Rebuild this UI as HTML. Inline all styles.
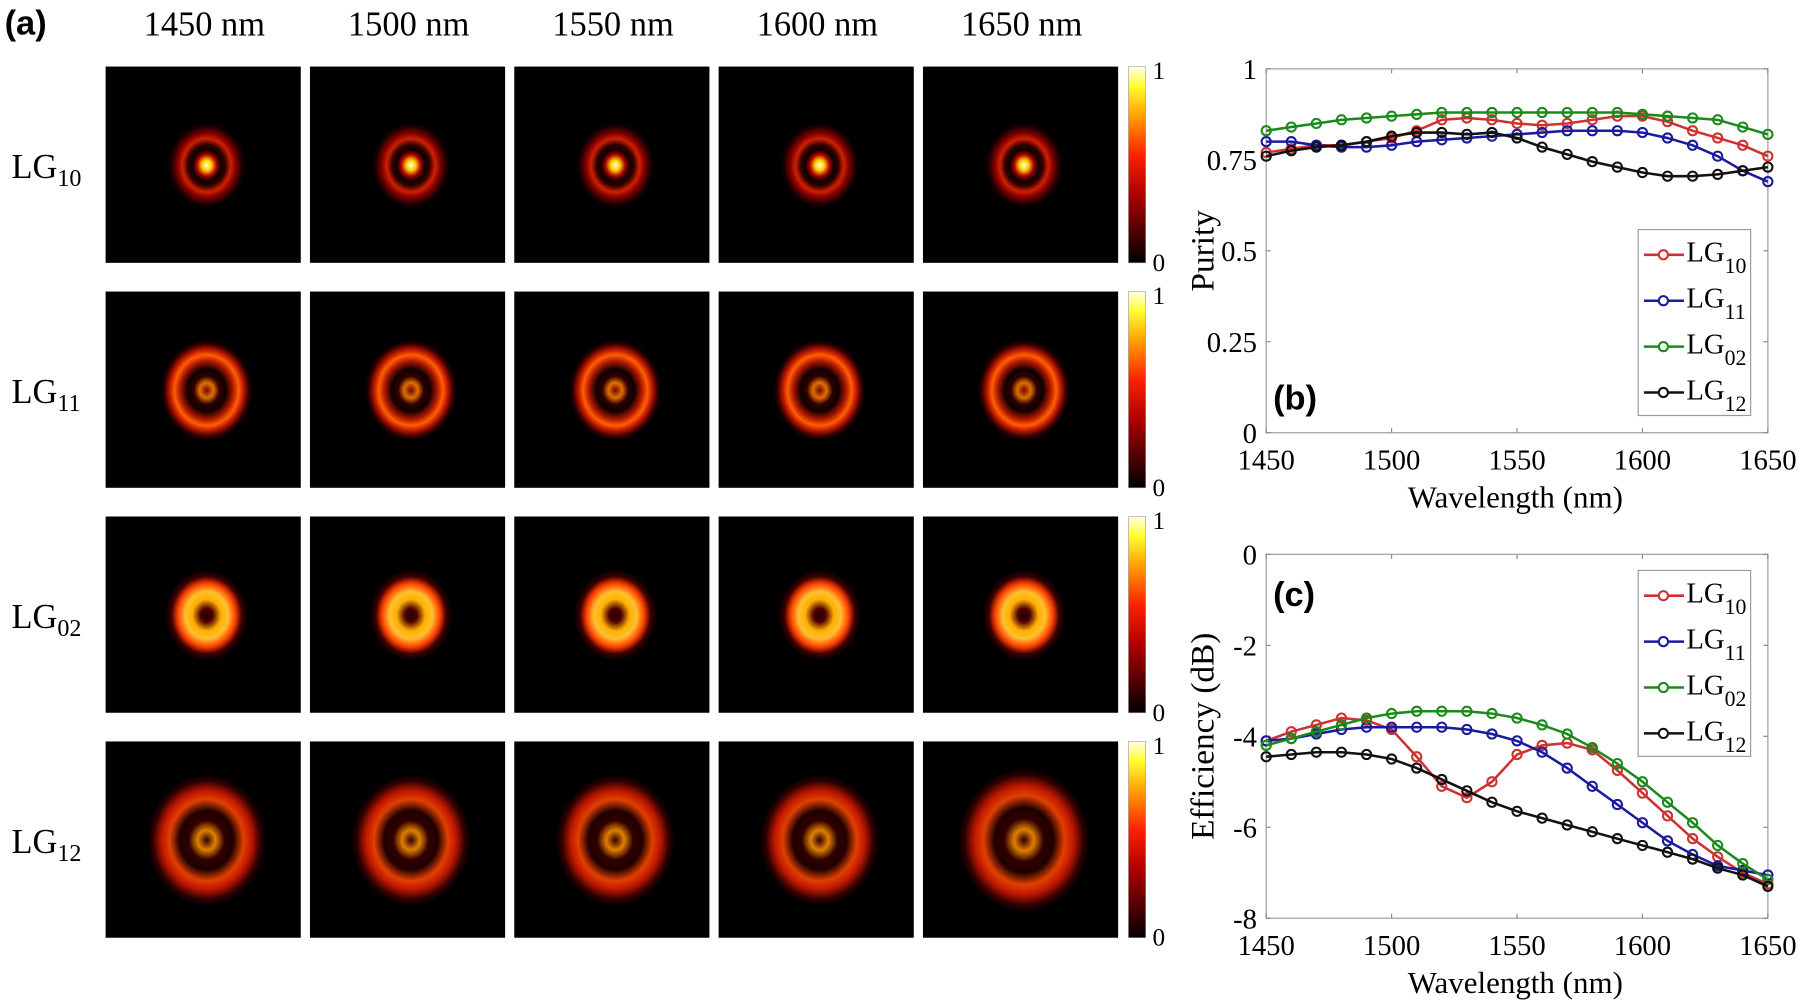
<!DOCTYPE html>
<html><head><meta charset="utf-8"><style>
html,body{margin:0;padding:0;background:#fff;}
svg{display:block;}
</style></head><body>
<svg id="s" width="1800" height="1002" viewBox="0 0 1568 873" preserveAspectRatio="none" xmlns="http://www.w3.org/2000/svg">
<defs>
<linearGradient id="cb" x1="0" y1="1" x2="0" y2="0">
<stop offset="0" stop-color="#000"/><stop offset="0.35" stop-color="#b00000"/><stop offset="0.55" stop-color="#ff2000"/><stop offset="0.75" stop-color="#ffa000"/><stop offset="0.9" stop-color="#ffff30"/><stop offset="1" stop-color="#ffffe8"/>
</linearGradient>
<radialGradient id="g0"><stop offset="0" stop-color="#fffde0"/><stop offset="0.12" stop-color="#ffd000"/><stop offset="0.25" stop-color="#b00000"/><stop offset="0.36" stop-color="#100000"/><stop offset="0.48" stop-color="#300000"/><stop offset="0.62" stop-color="#d02000"/><stop offset="0.75" stop-color="#800000"/><stop offset="0.9" stop-color="#200000"/><stop offset="1" stop-color="#000"/></radialGradient>
<radialGradient id="g1"><stop offset="0" stop-color="#700800"/><stop offset="0.15" stop-color="#e07000"/><stop offset="0.28" stop-color="#300000"/><stop offset="0.42" stop-color="#100000"/><stop offset="0.58" stop-color="#b01800"/><stop offset="0.7" stop-color="#ff6000"/><stop offset="0.8" stop-color="#c01800"/><stop offset="0.92" stop-color="#300000"/><stop offset="1" stop-color="#000"/></radialGradient>
<radialGradient id="g2"><stop offset="0" stop-color="#200000"/><stop offset="0.15" stop-color="#500000"/><stop offset="0.35" stop-color="#ffb000"/><stop offset="0.52" stop-color="#ffc030"/><stop offset="0.7" stop-color="#ff4000"/><stop offset="0.85" stop-color="#400000"/><stop offset="1" stop-color="#000"/></radialGradient>
<radialGradient id="g3"><stop offset="0" stop-color="#300000"/><stop offset="0.15" stop-color="#e08000"/><stop offset="0.3" stop-color="#300000"/><stop offset="0.45" stop-color="#200000"/><stop offset="0.62" stop-color="#e04000"/><stop offset="0.75" stop-color="#c01800"/><stop offset="0.9" stop-color="#300000"/><stop offset="1" stop-color="#000"/></radialGradient>
</defs>
</svg>
<script>
var s=document.getElementById('s'),h='';
var SER='font-family="Liberation Serif, serif"';
function T(x,y,t,sz,a){h+='<text '+SER+' x="'+x+'" y="'+y+'" font-size="'+sz+'" text-anchor="'+(a||'start')+'">'+t+'</text>';}
h+='<text x="4" y="30" font-size="30" font-weight="bold" font-family="Liberation Sans, sans-serif">(a)</text>';
var cx=[92,270,448,626,804],ry=[58,254,450,646],wl=['1450','1500','1550','1600','1650'];
for(var i=0;i<5;i++)T(cx[i]+86,31,wl[i]+' nm',30,'middle');
var lbl=['10','11','02','12'],rr=[34,40,36,52];
for(var r=0;r<4;r++){
 h+='<text '+SER+' x="10" y="'+(ry[r]+97)+'" font-size="30">LG<tspan font-size="21" dy="7">'+lbl[r]+'</tspan></text>';
 for(var c=0;c<5;c++){
  var x=cx[c],y=ry[r];
  h+='<rect x="'+x+'" y="'+y+'" width="170" height="171" fill="#000"/>';
  var R=rr[r]*(r==3&&c==4?1.1:1);
  h+='<ellipse cx="'+(x+88)+'" cy="'+(y+86)+'" rx="'+R+'" ry="'+(R*1.1)+'" fill="url(#g'+r+')"/>';
 }
 h+='<rect x="983" y="'+y+'" width="15" height="171" fill="url(#cb)" stroke="#999" stroke-width="0.5"/>';
 T(1004,y+11,'1',22);T(1004,y+178,'0',22);
}
function plot(top,bot,ymin,ymax,ticks,tl,ylab,data,leg,lab,laby){
 var L=1103,R=1540;
 function X(w){return L+(w-1450)/200*(R-L);}
 function Y(v){return bot-(v-ymin)/(ymax-ymin)*(bot-top);}
 h+='<rect x="'+L+'" y="'+top+'" width="'+(R-L)+'" height="'+(bot-top)+'" fill="none" stroke="#aaa" stroke-width="1.2"/>';
 for(var i=0;i<ticks.length;i++){var yy=Y(ticks[i]);h+='<line x1="'+L+'" y1="'+yy+'" x2="'+(L+4)+'" y2="'+yy+'" stroke="#888"/><line x1="'+R+'" y1="'+yy+'" x2="'+(R-4)+'" y2="'+yy+'" stroke="#888"/>';T(L-8,yy+9,tl[i],25,'end');}
 for(var w=1450;w<=1650;w+=50){var xx=X(w);h+='<line x1="'+xx+'" y1="'+bot+'" x2="'+xx+'" y2="'+(bot-4)+'" stroke="#888"/><line x1="'+xx+'" y1="'+top+'" x2="'+xx+'" y2="'+(top+4)+'" stroke="#888"/>';T(xx,bot+32,w,25,'middle');}
 T(1320,bot+65,'Wavelength (nm)',27,'middle');
 h+='<text '+SER+' transform="translate(1057,'+((top+bot)/2)+') rotate(-90)" font-size="29" text-anchor="middle">'+ylab+'</text>';
 var col=['#d03030','#1a1aa0','#1a8a1a','#111'];
 for(var k=0;k<4;k++){var p='';for(var j=0;j<21;j++)p+=(j?'L':'M')+X(1450+10*j).toFixed(1)+' '+Y(data[k][j]).toFixed(1);
  h+='<path d="'+p+'" fill="none" stroke="'+col[k]+'" stroke-width="2.2"/>';
  for(var j=0;j<21;j++)h+='<circle cx="'+X(1450+10*j)+'" cy="'+Y(data[k][j])+'" r="4" fill="none" stroke="'+col[k]+'" stroke-width="1.8"/>';}
 var lx=1427,ly=leg;h+='<rect x="'+lx+'" y="'+ly+'" width="98" height="162" fill="#fff" stroke="#999"/>';
 var ln=['10','11','02','12'];
 for(var k=0;k<4;k++){var yy=ly+22+k*40;h+='<line x1="'+(lx+5)+'" y1="'+yy+'" x2="'+(lx+40)+'" y2="'+yy+'" stroke="'+col[k]+'" stroke-width="2.2"/><circle cx="'+(lx+22)+'" cy="'+yy+'" r="4" fill="#fff" stroke="'+col[k]+'" stroke-width="1.8"/>';
  h+='<text '+SER+' x="'+(lx+42)+'" y="'+(yy+6)+'" font-size="25">LG<tspan font-size="19" dy="10">'+ln[k]+'</tspan></text>';}
 h+='<text x="1109" y="'+laby+'" font-size="30" font-weight="bold" font-family="Liberation Sans, sans-serif">'+lab+'</text>';
}
var pur=[
[.77,.78,.79,.79,.80,.81,.83,.86,.865,.86,.85,.845,.85,.86,.87,.87,.855,.83,.81,.79,.76],
[.80,.80,.79,.785,.785,.79,.80,.805,.81,.815,.82,.825,.83,.83,.83,.825,.81,.79,.76,.72,.69],
[.83,.84,.85,.86,.865,.87,.875,.88,.88,.88,.88,.88,.88,.88,.88,.875,.87,.865,.86,.84,.82],
[.76,.775,.785,.79,.80,.815,.825,.825,.82,.825,.81,.785,.765,.745,.73,.715,.705,.705,.71,.72,.73]];
plot(60,377,0,1,[0,.25,.5,.75,1],['0','0.25','0.5','0.75','1'],'Purity',pur,200,'(b)',357);
var eff=[
[-4.1,-3.9,-3.75,-3.6,-3.65,-3.85,-4.45,-5.1,-5.35,-5.0,-4.4,-4.2,-4.15,-4.3,-4.75,-5.25,-5.75,-6.25,-6.65,-7.0,-7.25],
[-4.1,-4.05,-3.95,-3.85,-3.8,-3.8,-3.8,-3.8,-3.85,-3.95,-4.1,-4.35,-4.7,-5.1,-5.5,-5.9,-6.3,-6.6,-6.85,-6.95,-7.05],
[-4.2,-4.05,-3.9,-3.75,-3.6,-3.5,-3.45,-3.45,-3.45,-3.5,-3.6,-3.75,-3.95,-4.25,-4.6,-5.0,-5.45,-5.9,-6.4,-6.8,-7.15],
[-4.45,-4.4,-4.35,-4.35,-4.4,-4.5,-4.7,-4.95,-5.2,-5.45,-5.65,-5.8,-5.95,-6.1,-6.25,-6.4,-6.55,-6.7,-6.9,-7.05,-7.3]];
plot(483,800,-8,0,[-8,-6,-4,-2,0],['-8','-6','-4','-2','0'],'Efficiency (dB)',eff,497,'(c)',528);
s.innerHTML+=h;
</script>
</body></html>
